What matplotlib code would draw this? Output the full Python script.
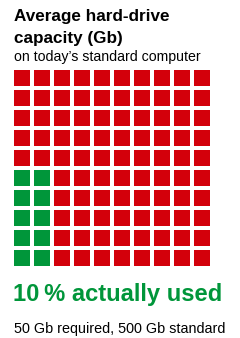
import matplotlib
matplotlib.use("Agg")
import matplotlib.pyplot as plt
from matplotlib.patches import Rectangle

plt.rcParams['font.family'] = ['Liberation Sans', 'DejaVu Sans']

title = "Average hard-drive\ncapacity (Gb)"
subtitle = "on today\u2019s standard computer"
headline = "10\u2009% actually used"
footnote = "50 Gb required, 500 Gb standard"

standard_gb = 500
required_gb = 50
n_rows = 10
n_cols = 10
used_cols = 2

red = "#d3000b"
green = "#00963a"

W, H = 240, 338
fig = plt.figure(figsize=(W / 100, H / 100), dpi=100)

# text layer in pixel coordinates
bg = fig.add_axes([0, 0, 1, 1])
bg.set_xlim(0, W)
bg.set_ylim(H, 0)
bg.axis("off")

line1, line2 = title.split("\n")
bg.text(14, 20.5, line1, fontsize=12.3, fontweight="bold", va="baseline", ha="left")
bg.text(14, 43, line2, fontsize=12.3, fontweight="bold", va="baseline", ha="left")
bg.text(14, 61, subtitle, fontsize=10.2, va="baseline", ha="left")
bg.text(13, 300.5, headline, fontsize=17.1, fontweight="bold", color=green,
        va="baseline", ha="left")
bg.text(14, 333, footnote, fontsize=10.4, va="baseline", ha="left")

# waffle grid
gx0, gy0, gw, gh = 14, 70, 200, 200
ax = fig.add_axes([gx0 / W, 1 - (gy0 + gh) / H, gw / W, gh / H])
ax.set_xlim(0, n_cols)
ax.set_ylim(0, n_rows)
ax.axis("off")

used_cells = round(required_gb / standard_gb * n_rows * n_cols)
used_rows = used_cells // used_cols
size = 0.8
for r in range(n_rows):
    for c in range(n_cols):
        col = green if (c < used_cols and r < used_rows) else red
        ax.add_patch(Rectangle((c, r + 0.2), size, size, facecolor=col, edgecolor="none"))

fig.savefig("out.png", dpi=100)
